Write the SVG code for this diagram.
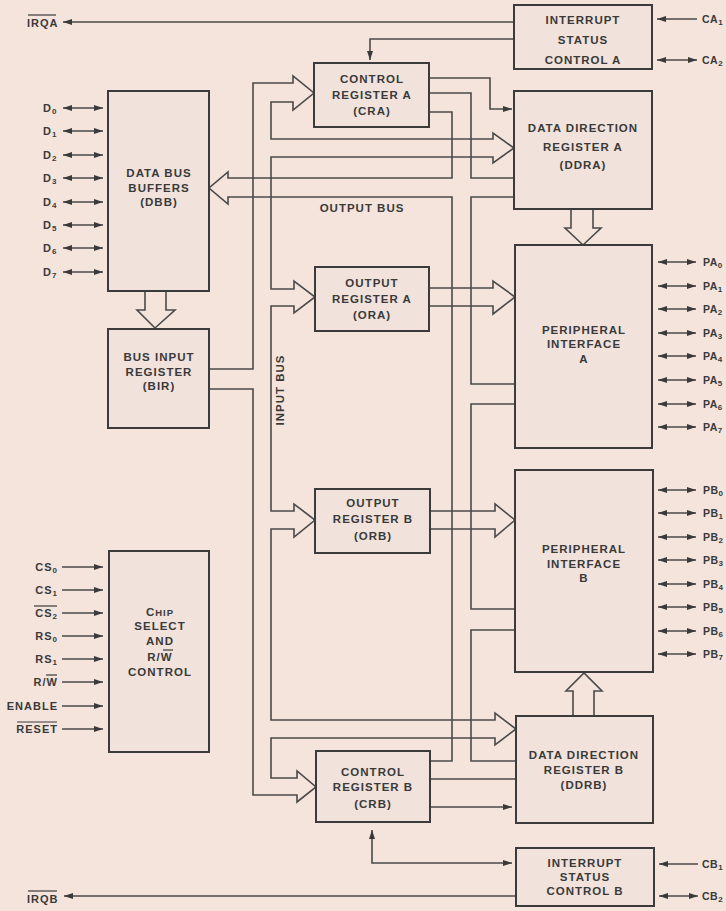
<svg xmlns="http://www.w3.org/2000/svg" width="726" height="911" viewBox="0 0 726 911">
<defs>
<style>
.box{fill:#f1e2db;stroke:#3b3b3b;stroke-width:2}
.ln{fill:none;stroke:#4a4a4a;stroke-width:1.6}
.bus{fill:none;stroke:#4a4a4a;stroke-width:1.6;stroke-linejoin:miter}
.t{font-family:"Liberation Sans",Arial,sans-serif;font-weight:bold;font-size:11.5px;letter-spacing:1px;fill:#3a3a3a;text-anchor:middle}
.l{font-family:"Liberation Sans",Arial,sans-serif;font-weight:bold;font-size:11px;letter-spacing:1px;fill:#3a3a3a}
.rl{font-family:"Liberation Sans",Arial,sans-serif;font-weight:bold;font-size:10.5px;letter-spacing:0.5px;fill:#3a3a3a}
.r{text-anchor:end}
.s{font-size:8px}
.ov{stroke:#3a3a3a;stroke-width:1.2}
</style>
<marker id="ah" viewBox="0 0 9 6" refX="9" refY="3" markerWidth="9" markerHeight="6" markerUnits="userSpaceOnUse" orient="auto-start-reverse">
<path d="M0,0 L9,3 L0,6 z" fill="#3a3a3a"/>
</marker>
</defs>
<rect width="726" height="911" fill="#f4e4dc"/>

<g id="connectors">
<!-- input bus with branch arrows -->
<path class="bus" d="M209,369 H253 V83 H293 V76 L314,93 L293,110 V102 H271 V139 H493 V133 L514,148 L493,163 V157 H271 V289 H294 V281 L315,297 L294,313 V306 H271 V511 H294 V504 L315,520 L294,537 V529 H271 V720 H495 V713 L516,729 L495,745 V738 H271 V778 H297 V771 L316,787 L297,802 V795 H253 V389 H209"/>
<!-- output bus -->
<path class="bus" d="M429,112 H452 V178 H228 V172 L209,188 L228,204 V197 H452 V761 H430"/>
<path class="bus" d="M429,93 H471 V178 H514"/>
<path class="bus" d="M514,197 H471 V384 H515"/>
<path class="bus" d="M515,404 H471 V609 H515"/>
<path class="bus" d="M515,630 H471 V761 H516"/>
<!-- ORA to PIA, ORB to PIB -->
<path class="bus" d="M429,288 H493 V281 L515,297 L493,314 V306 H429"/>
<path class="bus" d="M430,511 H495 V504 L515,520 L495,537 V529 H430"/>
<!-- DDRA to PIA, DDRB to PIB, DBB to BIR -->
<path class="bus" d="M571,209 V228 H565 L583,245 L601,228 H593 V209"/>
<path class="bus" d="M573,716 V691 H566 L584,673 L602,691 H594 V716"/>
<path class="bus" d="M145,291 V310 H137 L155,328 L175,310 H166 V291"/>
<!-- control lines -->
<path class="ln" d="M429,78 H490 V109 H512" marker-end="url(#ah)"/>
<path class="ln" d="M514,39 H370 V60" marker-end="url(#ah)"/>
<path class="ln" d="M514,22 H63" marker-end="url(#ah)"/>
<path class="ln" d="M430,779 H516"/>
<path class="ln" d="M430,807 H512" marker-end="url(#ah)"/>
<path class="ln" d="M512,863 H372 V830" marker-start="url(#ah)" marker-end="url(#ah)"/>
<path class="ln" d="M516,896 H64" marker-end="url(#ah)"/>
<!-- data lines -->
<path class="ln" d="M63,108 H103" marker-start="url(#ah)" marker-end="url(#ah)"/>
<path class="ln" d="M63,131 H103" marker-start="url(#ah)" marker-end="url(#ah)"/>
<path class="ln" d="M63,155 H103" marker-start="url(#ah)" marker-end="url(#ah)"/>
<path class="ln" d="M63,178 H103" marker-start="url(#ah)" marker-end="url(#ah)"/>
<path class="ln" d="M63,202 H103" marker-start="url(#ah)" marker-end="url(#ah)"/>
<path class="ln" d="M63,225 H103" marker-start="url(#ah)" marker-end="url(#ah)"/>
<path class="ln" d="M63,248 H103" marker-start="url(#ah)" marker-end="url(#ah)"/>
<path class="ln" d="M63,272 H103" marker-start="url(#ah)" marker-end="url(#ah)"/>
<!-- chip select inputs -->
<path class="ln" d="M62,567 H103" marker-end="url(#ah)"/>
<path class="ln" d="M62,590 H103" marker-end="url(#ah)"/>
<path class="ln" d="M62,613 H103" marker-end="url(#ah)"/>
<path class="ln" d="M62,636 H103" marker-end="url(#ah)"/>
<path class="ln" d="M62,659 H103" marker-end="url(#ah)"/>
<path class="ln" d="M62,682 H103" marker-end="url(#ah)"/>
<path class="ln" d="M62,706 H103" marker-end="url(#ah)"/>
<path class="ln" d="M62,729 H103" marker-end="url(#ah)"/>
<!-- CA / CB -->
<path class="ln" d="M697,19 H657" marker-end="url(#ah)"/>
<path class="ln" d="M657,60 H697" marker-start="url(#ah)" marker-end="url(#ah)"/>
<path class="ln" d="M698,864 H659" marker-end="url(#ah)"/>
<path class="ln" d="M659,896 H698" marker-start="url(#ah)" marker-end="url(#ah)"/>
<!-- PA -->
<path class="ln" d="M658,262 H696" marker-start="url(#ah)" marker-end="url(#ah)"/>
<path class="ln" d="M658,286 H696" marker-start="url(#ah)" marker-end="url(#ah)"/>
<path class="ln" d="M658,309 H696" marker-start="url(#ah)" marker-end="url(#ah)"/>
<path class="ln" d="M658,333 H696" marker-start="url(#ah)" marker-end="url(#ah)"/>
<path class="ln" d="M658,356 H696" marker-start="url(#ah)" marker-end="url(#ah)"/>
<path class="ln" d="M658,380 H696" marker-start="url(#ah)" marker-end="url(#ah)"/>
<path class="ln" d="M658,404 H696" marker-start="url(#ah)" marker-end="url(#ah)"/>
<path class="ln" d="M658,427 H696" marker-start="url(#ah)" marker-end="url(#ah)"/>
<!-- PB -->
<path class="ln" d="M658,490 H696" marker-start="url(#ah)" marker-end="url(#ah)"/>
<path class="ln" d="M658,513 H696" marker-start="url(#ah)" marker-end="url(#ah)"/>
<path class="ln" d="M658,537 H696" marker-start="url(#ah)" marker-end="url(#ah)"/>
<path class="ln" d="M658,560 H696" marker-start="url(#ah)" marker-end="url(#ah)"/>
<path class="ln" d="M658,584 H696" marker-start="url(#ah)" marker-end="url(#ah)"/>
<path class="ln" d="M658,607 H696" marker-start="url(#ah)" marker-end="url(#ah)"/>
<path class="ln" d="M658,631 H696" marker-start="url(#ah)" marker-end="url(#ah)"/>
<path class="ln" d="M658,654 H696" marker-start="url(#ah)" marker-end="url(#ah)"/>
</g>

<g id="bus-labels">
<text class="t" x="362" y="212">OUTPUT BUS</text>
<text class="t" transform="translate(284,390) rotate(-90)">INPUT BUS</text>
</g>

<g id="isca"><rect class="box" x="514" y="5" width="138" height="64"/>
<text class="t" x="583" y="24">INTERRUPT</text><text class="t" x="583" y="44">STATUS</text><text class="t" x="583" y="64">CONTROL A</text></g>

<g id="cra"><rect class="box" x="314" y="63" width="115" height="64"/>
<text class="t" x="372" y="83">CONTROL</text><text class="t" x="372" y="99">REGISTER A</text><text class="t" x="372" y="115">(CRA)</text></g>

<g id="ddra"><rect class="box" x="514" y="91" width="138" height="118"/>
<text class="t" x="583" y="132">DATA DIRECTION</text><text class="t" x="583" y="151">REGISTER A</text><text class="t" x="583" y="169">(DDRA)</text></g>

<g id="dbb"><rect class="box" x="108" y="91" width="101" height="200"/>
<text class="t" x="159" y="177">DATA BUS</text><text class="t" x="159" y="192">BUFFERS</text><text class="t" x="159" y="206">(DBB)</text></g>

<g id="bir"><rect class="box" x="108" y="329" width="101" height="99"/>
<text class="t" x="159" y="361">BUS INPUT</text><text class="t" x="159" y="376">REGISTER</text><text class="t" x="159" y="390">(BIR)</text></g>

<g id="ora"><rect class="box" x="315" y="267" width="114" height="64"/>
<text class="t" x="372" y="287">OUTPUT</text><text class="t" x="372" y="303">REGISTER A</text><text class="t" x="372" y="319">(ORA)</text></g>

<g id="pia"><rect class="box" x="515" y="245" width="137" height="203"/>
<text class="t" x="584" y="334">PERIPHERAL</text><text class="t" x="584" y="348">INTERFACE</text><text class="t" x="584" y="363">A</text></g>

<g id="orb"><rect class="box" x="315" y="489" width="115" height="64"/>
<text class="t" x="373" y="507">OUTPUT</text><text class="t" x="373" y="523">REGISTER B</text><text class="t" x="373" y="540">(ORB)</text></g>

<g id="pib"><rect class="box" x="515" y="470" width="138" height="202"/>
<text class="t" x="584" y="553">PERIPHERAL</text><text class="t" x="584" y="568">INTERFACE</text><text class="t" x="584" y="582">B</text></g>

<g id="chipselect"><rect class="box" x="109" y="551" width="100" height="201"/>
<text class="t" x="160" y="616">C<tspan style="font-size:9.5px">HIP</tspan></text>
<text class="t" x="160" y="630">SELECT</text>
<text class="t" x="160" y="645">AND</text>
<text class="t" x="160" y="661">R/W</text>
<line class="ov" x1="163" y1="650" x2="173" y2="650"/>
<text class="t" x="160" y="676">CONTROL</text></g>

<g id="crb"><rect class="box" x="316" y="751" width="114" height="71"/>
<text class="t" x="373" y="776">CONTROL</text><text class="t" x="373" y="791">REGISTER B</text><text class="t" x="373" y="808">(CRB)</text></g>

<g id="ddrb"><rect class="box" x="516" y="716" width="137" height="107"/>
<text class="t" x="584" y="759">DATA DIRECTION</text><text class="t" x="584" y="774">REGISTER B</text><text class="t" x="584" y="789">(DDRB)</text></g>

<g id="iscb"><rect class="box" x="516" y="848" width="138" height="58"/>
<text class="t" x="585" y="867">INTERRUPT</text><text class="t" x="585" y="881">STATUS</text><text class="t" x="585" y="895">CONTROL B</text></g>

<g id="left-labels">
<text class="l" x="27" y="27">IRQA</text><line class="ov" x1="28" y1="15" x2="56" y2="15"/>
<text class="l" x="43" y="112">D<tspan class="s" dy="2">0</tspan></text>
<text class="l" x="43" y="135">D<tspan class="s" dy="2">1</tspan></text>
<text class="l" x="43" y="159">D<tspan class="s" dy="2">2</tspan></text>
<text class="l" x="43" y="182">D<tspan class="s" dy="2">3</tspan></text>
<text class="l" x="43" y="206">D<tspan class="s" dy="2">4</tspan></text>
<text class="l" x="43" y="229">D<tspan class="s" dy="2">5</tspan></text>
<text class="l" x="43" y="252">D<tspan class="s" dy="2">6</tspan></text>
<text class="l" x="43" y="276">D<tspan class="s" dy="2">7</tspan></text>
<text class="l r" x="58" y="571">CS<tspan class="s" dy="2">0</tspan></text>
<text class="l r" x="58" y="594">CS<tspan class="s" dy="2">1</tspan></text>
<text class="l r" x="58" y="617">CS<tspan class="s" dy="2">2</tspan></text><line class="ov" x1="34" y1="606" x2="57" y2="606"/>
<text class="l r" x="58" y="640">RS<tspan class="s" dy="2">0</tspan></text>
<text class="l r" x="58" y="663">RS<tspan class="s" dy="2">1</tspan></text>
<text class="l r" x="58" y="686">R/W</text><line class="ov" x1="46" y1="675" x2="57" y2="675"/>
<text class="l r" x="58" y="710">ENABLE</text>
<text class="l r" x="58" y="733">RESET</text><line class="ov" x1="17" y1="722" x2="57" y2="722"/>
<text class="l" x="27" y="903">IRQB</text><line class="ov" x1="28" y1="891" x2="57" y2="891"/>
</g>

<g id="right-labels">
<text class="rl" x="702" y="23">CA<tspan class="s" dy="2">1</tspan></text>
<text class="rl" x="702" y="64">CA<tspan class="s" dy="2">2</tspan></text>
<text class="rl" x="703" y="266">PA<tspan class="s" dy="2">0</tspan></text>
<text class="rl" x="703" y="290">PA<tspan class="s" dy="2">1</tspan></text>
<text class="rl" x="703" y="313">PA<tspan class="s" dy="2">2</tspan></text>
<text class="rl" x="703" y="337">PA<tspan class="s" dy="2">3</tspan></text>
<text class="rl" x="703" y="360">PA<tspan class="s" dy="2">4</tspan></text>
<text class="rl" x="703" y="384">PA<tspan class="s" dy="2">5</tspan></text>
<text class="rl" x="703" y="408">PA<tspan class="s" dy="2">6</tspan></text>
<text class="rl" x="703" y="431">PA<tspan class="s" dy="2">7</tspan></text>
<text class="rl" x="703" y="494">PB<tspan class="s" dy="2">0</tspan></text>
<text class="rl" x="703" y="517">PB<tspan class="s" dy="2">1</tspan></text>
<text class="rl" x="703" y="541">PB<tspan class="s" dy="2">2</tspan></text>
<text class="rl" x="703" y="564">PB<tspan class="s" dy="2">3</tspan></text>
<text class="rl" x="703" y="588">PB<tspan class="s" dy="2">4</tspan></text>
<text class="rl" x="703" y="611">PB<tspan class="s" dy="2">5</tspan></text>
<text class="rl" x="703" y="635">PB<tspan class="s" dy="2">6</tspan></text>
<text class="rl" x="703" y="658">PB<tspan class="s" dy="2">7</tspan></text>
<text class="rl" x="702" y="868">CB<tspan class="s" dy="2">1</tspan></text>
<text class="rl" x="702" y="900">CB<tspan class="s" dy="2">2</tspan></text>
</g>
</svg>
